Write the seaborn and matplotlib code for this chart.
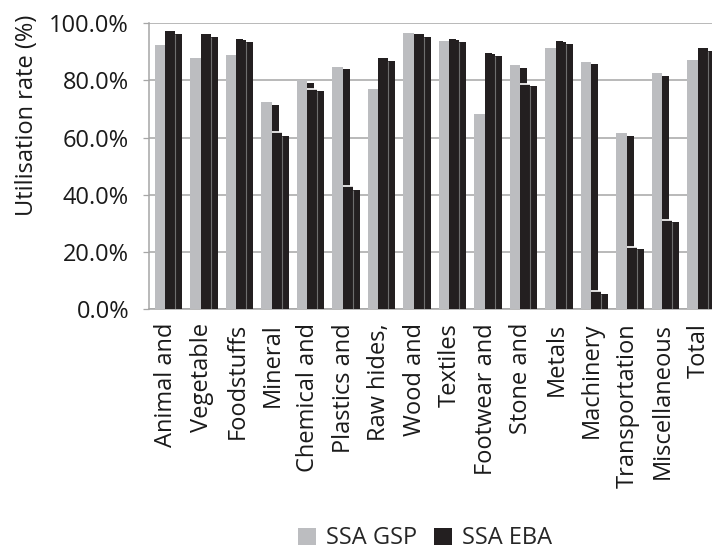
import numpy as np
import pandas as pd
import matplotlib
matplotlib.use("Agg")
import matplotlib.pyplot as plt
from matplotlib.patches import Patch
from matplotlib.ticker import FuncFormatter, FixedLocator
import seaborn as sns

# Product sections
categories = ["Animal and", "Vegetable", "Foodstuffs", "Mineral", "Chemical and",
              "Plastics and", "Raw hides,", "Wood and", "Textiles", "Footwear and",
              "Stone and", "Metals", "Machinery", "Transportation", "Miscellaneous",
              "Total"]

# Utilisation rates (%)
ssa_gsp = [92.4, 87.9, 88.9, 72.5, 80.2, 84.7, 77.1, 96.6, 93.8, 68.3, 85.4, 91.4,
           86.5, 61.6, 82.6, 87.2]
ssa_eba = [97.4, 96.3, 94.5, 71.4, 79.2, 84.0, 87.9, 96.3, 94.5, 89.6, 84.4, 93.8,
           85.8, 60.6, 81.6, 91.4]
ssa_eba_alt = [97.2, 96.1, 94.3, 61.8, 77.1, 43.0, 87.7, 96.1, 94.3, 89.4, 78.8, 93.6,
               6.3, 21.8, 31.3, 91.2]
ssa_eba_alt_side = [96.3, 95.2, 93.5, 60.6, 76.3, 41.7, 86.8, 95.2, 93.5, 88.6, 78.1,
                    92.8, 5.3, 21.0, 30.5, 90.3]

GREY = "#BCBDC0"
BLACK = "#231F20"
GRID = "#A6A6A6"
TEXT = "#1A1A1A"
FONT = ["Open Sans", "DejaVu Sans"]
FS = 17

sns.set_style("white")
plt.rcParams["font.family"] = FONT

fig = plt.figure(figsize=(7.12, 5.5), dpi=100)
ax = fig.add_axes([148.5 / 712, 1 - 309 / 550, 568 / 712, 285.7 / 550])

idx = np.arange(len(categories))

# (values, x offset, bar width, colour)
layers = [
    (ssa_gsp, -0.178, 0.295, GREY),
    (ssa_eba, 0.072, 0.195, BLACK),
    (ssa_eba_alt, 0.1175, 0.285, BLACK),
    (ssa_eba_alt_side, 0.355, 0.19, BLACK),
]
for vals, off, w, col in layers:
    df = pd.DataFrame({"x": idx + off, "y": np.array(vals) / 100})
    sns.barplot(data=df, x="x", y="y", native_scale=True, width=w, color=col,
                saturation=1, errorbar=None, linewidth=0, ax=ax, zorder=3)

# white top edge where the taller EBA bar rises above the front bar
eba = np.array(ssa_eba) / 100
alt = np.array(ssa_eba_alt) / 100
side = np.array(ssa_eba_alt_side) / 100
step = eba - alt > 0.01
ax.hlines(alt[step], idx[step] - 0.025, idx[step] + 0.26, color="white", lw=1.2, zorder=4)
# separator between front face and side face
ax.vlines(idx + 0.26, 0, side, color="#6E6E6E", lw=0.8, zorder=4)

ax.set_xlim(-0.5, len(categories) - 0.5)
ax.set_ylim(0, 1.0)
ax.set_yticks(np.linspace(0, 1, 6))
ax.yaxis.set_major_formatter(FuncFormatter(lambda v, p: f"{v * 100:.1f}%"))
ax.grid(axis="y", color=GRID, lw=1.1, zorder=0)
ax.grid(axis="x", visible=False)
ax.set_axisbelow(True)

ax.xaxis.set_major_locator(FixedLocator(idx))
ax.set_xticklabels(categories, rotation=90, ha="center", va="top")
ax.xaxis.set_minor_locator(FixedLocator(np.arange(len(categories) + 1) - 0.5))
ax.tick_params(axis="x", which="major", length=0, pad=10, labelsize=FS, colors=TEXT)
ax.tick_params(axis="x", which="minor", length=6, width=0.9, color=GRID, direction="out")
ax.tick_params(axis="y", which="major", length=4, width=0.9, color=GRID, direction="out",
               pad=10, labelsize=FS, labelcolor=TEXT, left=True)

for s in ["top", "right"]:
    ax.spines[s].set_visible(False)
for s in ["left", "bottom"]:
    ax.spines[s].set_color(GRID)
    ax.spines[s].set_linewidth(1.1)

ax.set_xlabel("")
ax.set_ylabel("Utilisation rate (%)", fontsize=FS, color=TEXT)
ax.yaxis.set_label_coords(-0.193, 0.679)

handles = [Patch(facecolor=GREY, edgecolor="none", label="SSA GSP"),
           Patch(facecolor=BLACK, edgecolor="none", label="SSA EBA")]
fig.legend(handles=handles, loc="center", bbox_to_anchor=(0.597, 0.021),
           ncol=2, frameon=False, fontsize=FS, handlelength=0.75, handleheight=0.75,
           handletextpad=0.45, columnspacing=0.7, borderaxespad=0, borderpad=0.0)

fig.savefig("out.png", dpi=100)
